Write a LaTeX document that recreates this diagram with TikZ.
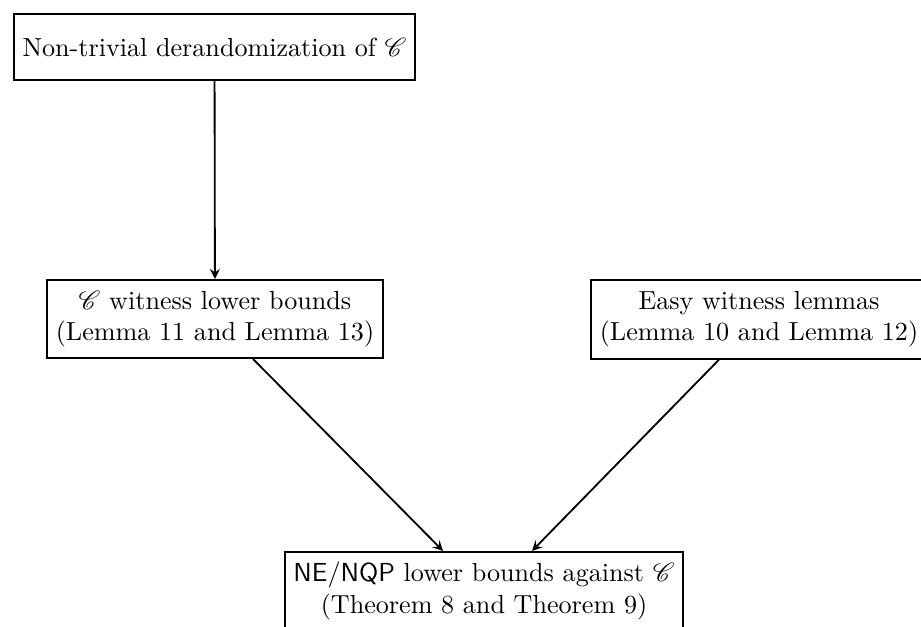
\documentclass[tikz,border=0pt]{standalone}
\usepackage{mathrsfs}
\usetikzlibrary{arrows}
\tikzset{
  claim/.style={rectangle, draw=black, align=center, line width=0.7pt, minimum height=30pt},
  arrow/.style={line width=0.7pt,->,>=stealth}
}

\begin{document}
\begin{tikzpicture}[x=0.383pt, y=-0.383pt]
        \useasboundingbox (0,0) rectangle (921,626);

        % Cajas
        \node (deran) [claim, minimum height=25.3pt] at (214.5,47) {Non-trivial derandomization of $\mathscr{C}$};
        \node (witlow) [claim] at (215,319) {$\mathscr{C}$ witness lower bounds\\(Lemma 11 and Lemma 13)};
        \node (easy) [claim] at (759,319.5) {Easy witness lemmas\\(Lemma 10 and Lemma 12)};
        \node (lower) [claim] at (484,591) {$\mathsf{NE}/\mathsf{NQP}$ lower bounds against $\mathscr{C}$\\(Theorem 8 and Theorem 9)};

        % Flechas
        \draw [arrow] (deran) -- (witlow);
        \draw [arrow] ([xshift=14.6pt]witlow.south) -- ([xshift=-15.7pt]lower.north);
        \draw [arrow] ([xshift=-15.3pt]easy.south) -- ([xshift=18.4pt]lower.north);
\end{tikzpicture}
\end{document}
